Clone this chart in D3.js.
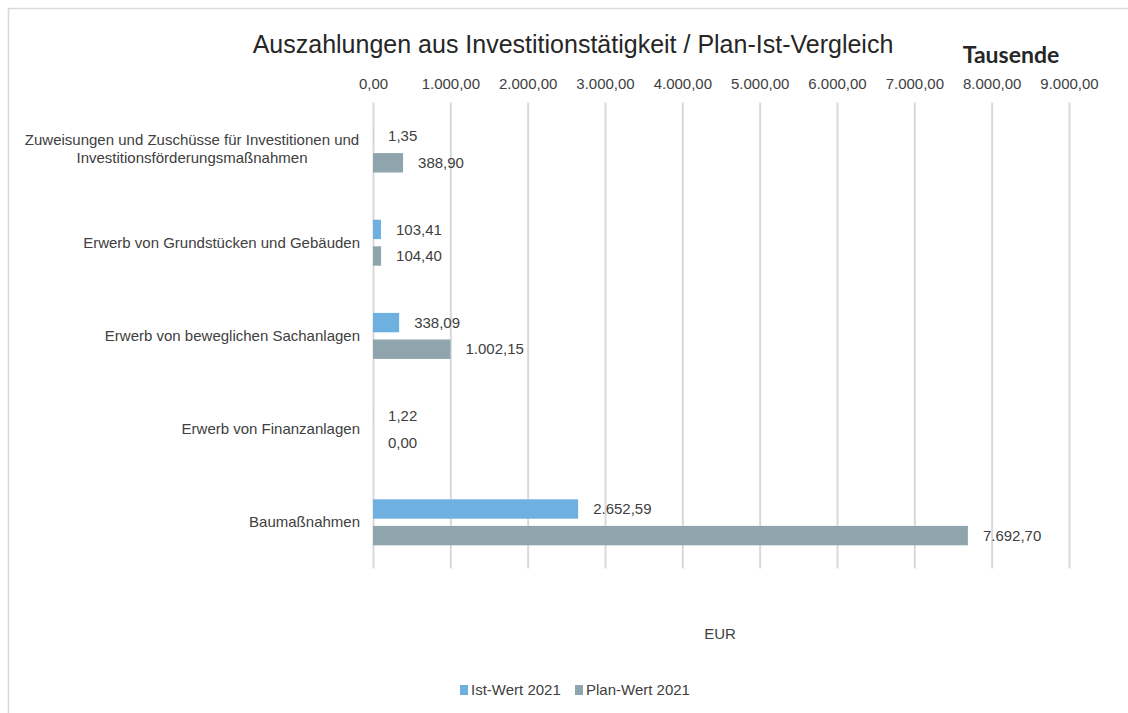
<!DOCTYPE html>
<html>
<head>
<meta charset="utf-8">
<script src="https://cdn.jsdelivr.net/npm/d3@7"></script>
<style>
  body { margin: 0; background: #fff; }
  svg text { font-family: "Liberation Sans", Arial, sans-serif; }
</style>
</head>
<body>
<script>
var categories = [
    "Zuweisungen und Zuschüsse für Investitionen und Investitionsförderungsmaßnahmen",
    "Erwerb von Grundstücken und Gebäuden",
    "Erwerb von beweglichen Sachanlagen",
    "Erwerb von Finanzanlagen",
    "Baumaßnahmen"
];
var seriesNames = ["Ist-Wert 2021", "Plan-Wert 2021"];
var istValues = [1.35, 103.41, 338.09, 1.22, 2652.59];
var planValues = [388.90, 104.40, 1002.15, 0.00, 7692.70];
var xTicks = [0, 1000, 2000, 3000, 4000, 5000, 6000, 7000, 8000, 9000];
var colors = ["#6eb1e1", "#8ea5ad"];

var width = 1128, height = 713;

var de = d3.formatLocale({ decimal: ",", thousands: ".", grouping: [3], currency: ["", " €"] });
var fmt = de.format(",.2f");

var svg = d3.select("body").append("svg")
    .attr("width", width)
    .attr("height", height)
    .style("display", "block");

// chart frame
svg.append("path")
    .attr("d", "M8.5," + height + "V8.5H" + width)
    .attr("fill", "none")
    .attr("stroke", "#d9d9d9")
    .attr("stroke-width", 1.5);

var plot = { left: 373, right: 1069, top: 102.5, bottom: 568.5 };

var x = d3.scaleLinear().domain([0, 9000]).range([plot.left, plot.right]);
var y0 = d3.scaleBand().domain(categories).range([plot.top, plot.bottom]);
var y1 = d3.scaleBand().domain(seriesNames).range([24, 70]).paddingInner(0.27);

// title
svg.append("text")
    .attr("x", 573).attr("y", 53)
    .attr("text-anchor", "middle")
    .attr("font-size", 25)
    .attr("fill", "#262626")
    .text("Auszahlungen aus Investitionstätigkeit / Plan-Ist-Vergleich");

svg.append("text")
    .attr("x", 1011).attr("y", 63)
    .attr("text-anchor", "middle")
    .style("font-family", "Lato, 'Open Sans', sans-serif")
    .attr("font-weight", "bold")
    .attr("font-size", 23)
    .attr("fill", "#262626")
    .text("Tausende");

// x axis on top with gridlines
var xAxis = svg.append("g")
    .attr("transform", "translate(0," + plot.top + ")")
    .call(d3.axisTop(x)
        .tickValues(xTicks)
        .tickSizeInner(-(plot.bottom - plot.top))
        .tickSizeOuter(0)
        .tickPadding(14)
        .tickFormat(fmt));

xAxis.select(".domain").remove();
xAxis.selectAll(".tick line")
    .attr("stroke", "#d9d9d9")
    .attr("stroke-width", 2);
xAxis.selectAll(".tick text")
    .attr("font-size", 15)
    .attr("fill", "#404040");

// category labels
var catLabels = svg.append("g").selectAll("text")
    .data(categories)
    .enter().append("text")
    .attr("text-anchor", "end")
    .attr("font-size", 15)
    .attr("fill", "#404040")
    .attr("transform", function (d) {
        return "translate(360," + (y0(d) + y0.bandwidth() / 2) + ")";
    });

catLabels.each(function (d, i) {
    var t = d3.select(this);
    if (i === 0) {
        t.attr("text-anchor", "middle");
        t.append("tspan").attr("x", -168).attr("dy", "-0.25em").text("Zuweisungen und Zuschüsse für Investitionen und");
        t.append("tspan").attr("x", -168).attr("dy", "1.15em").text("Investitionsförderungsmaßnahmen");
    } else {
        t.append("tspan").attr("x", 0).attr("dy", "0.35em").text(d);
    }
});

var rows = categories.map(function (c, i) {
    return { category: c, values: [istValues[i], planValues[i]] };
});

var groups = svg.append("g").selectAll("g")
    .data(rows)
    .enter().append("g")
    .attr("transform", function (d) { return "translate(0," + y0(d.category) + ")"; });

groups.selectAll("rect")
    .data(function (d) { return d.values.map(function (v, j) { return { name: seriesNames[j], value: v, idx: j }; }); })
    .enter().append("rect")
    .attr("x", x(0))
    .attr("y", function (d) { return y1(d.name); })
    .attr("width", function (d) { return x(d.value) - x(0); })
    .attr("height", y1.bandwidth())
    .attr("fill", function (d) { return colors[d.idx]; });

groups.selectAll("text")
    .data(function (d) { return d.values.map(function (v, j) { return { name: seriesNames[j], value: v }; }); })
    .enter().append("text")
    .attr("x", function (d) { return x(d.value) + 15; })
    .attr("y", function (d) { return y1(d.name) + y1.bandwidth() / 2; })
    .attr("dy", "0.35em")
    .attr("font-size", 15)
    .attr("fill", "#404040")
    .text(function (d) { return fmt(d.value); });

// axis unit
svg.append("text")
    .attr("x", 720).attr("y", 639)
    .attr("text-anchor", "middle")
    .attr("font-size", 15)
    .attr("fill", "#404040")
    .text("EUR");

// legend
var legendX = [460, 575];
var legend = svg.append("g").selectAll("g")
    .data(seriesNames)
    .enter().append("g")
    .attr("transform", function (d, i) { return "translate(" + legendX[i] + ",690)"; });

legend.append("rect")
    .attr("x", 0).attr("y", -5)
    .attr("width", 8).attr("height", 10)
    .attr("fill", function (d, i) { return colors[i]; });

legend.append("text")
    .attr("x", 11).attr("dy", "0.35em")
    .attr("font-size", 15)
    .attr("fill", "#404040")
    .text(function (d) { return d; });
</script>
</body>
</html>
